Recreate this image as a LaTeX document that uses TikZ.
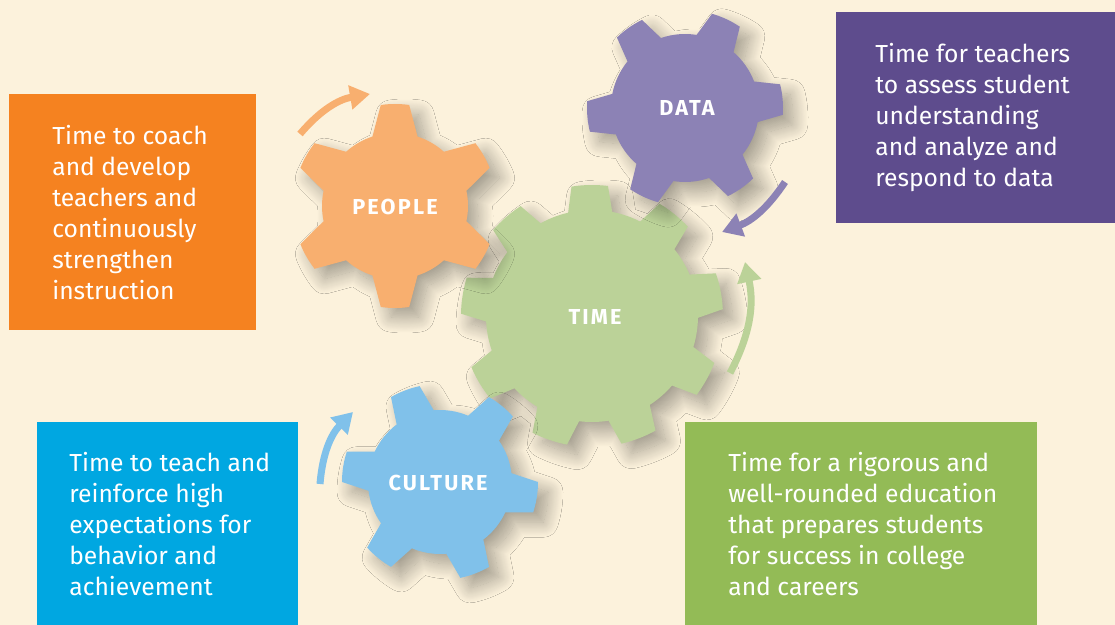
\documentclass[tikz,border=0pt]{standalone}
\usepackage{fontspec}
\setmainfont{Fira Sans}
\newfontfamily\gearfont[LetterSpace=10]{Fira Sans}
\usetikzlibrary{positioning,arrows.meta,shadows.blur}

\definecolor{bgcream}{HTML}{FCF2DC}
\definecolor{orangebox}{HTML}{F58220}
\definecolor{purplebox}{HTML}{5E4C8D}
\definecolor{bluebox}{HTML}{00A7E1}
\definecolor{greenbox}{HTML}{93BB56}
\definecolor{peoplegear}{HTML}{F8AF6F}
\definecolor{datagear}{HTML}{8C82B5}
\definecolor{timegear}{HTML}{BBD298}
\definecolor{culturegear}{HTML}{80C1EA}

\tikzset{
  box/.style={rectangle, inner sep=0pt, anchor=north west},
  boxtext/.style={inner sep=0pt, align=left, text=white,
    font=\fontsize{14.8pt}{18.6pt}\selectfont},
  gearlabel/.style={text=white, font=\gearfont\fontsize{13pt}{13pt}\selectfont\bfseries},
  gearshadow/.style={blur shadow={shadow xshift=6pt, shadow yshift=-6pt,
    shadow blur radius=9pt, shadow blur steps=24, shadow opacity=35}},
  turn/.style={line width=4.2pt, -{Triangle[length=12pt, width=14pt]}},
}

% colour, centre, first angle, second angle, last angle, inner r, outer r, base half, tip half
\newcommand{\gear}[9]{%
  \fill[gearshadow, fill=#1, shift={#2}] (#3-#8:#6)
    \foreach \a in {#3,#4,...,#5}{
      -- (\a-#8:#6) -- (\a-#9:#7)
      arc[start angle=\a-#9, end angle=\a+#9, radius=#7]
      -- (\a+#8:#6)
      arc[start angle=\a+#8, end angle=\a+#4-#3-#8, radius=#6]
    } -- cycle;
}

\begin{document}
\begin{tikzpicture}[x=0.6pt, y=0.6pt]
  \useasboundingbox (0,0) rectangle (1115,-625);
  \fill[bgcream] (0,0) rectangle (1115,-625);
  % Gears
  \gear{timegear}{(592,-316)}{11}{51}{331}{106}{131}{12}{8}
  \gear{peoplegear}{(395,-206)}{90}{150}{390}{73}{102}{18}{8}
  \gear{datagear}{(685,-108)}{5}{65}{305}{74}{98}{16}{9}
  \gear{culturegear}{(440,-482)}{-9}{51}{291}{72}{98}{16}{9}
  \node[gearlabel] (time) at (595,-317) {TIME};
  \node[gearlabel] (people) at (395,-207) {PEOPLE};
  \node[gearlabel] (data) at (687,-108) {DATA};
  \node[gearlabel] (culture) at (438,-483) {CULTURE};
  %---------------------%
  % Turning arrows
  \coordinate (peopletail) at (300,-134);
  \coordinate (peopletip) at (370,-94);
  \coordinate (datatail) at (785,-182);
  \coordinate (datatip) at (722,-232);
  \coordinate (timetail) at (730,-373);
  \coordinate (timetip) at (745,-262);
  \coordinate (culturetail) at (320,-484);
  \coordinate (culturetip) at (353,-412);
  \draw[turn, peoplegear] (peopletail) to[bend left=20] (peopletip);
  \draw[turn, datagear] (datatail) to[bend left=18] (datatip);
  \draw[turn, timegear] (timetail) to[bend right=20] (timetip);
  \draw[turn, culturegear] (culturetail) to[bend left=20] (culturetip);
  %---------------------%
  % Text boxes
  \node[box, fill=orangebox, minimum width=148.2pt, minimum height=141.6pt] (peoplebox) at (9,-94) {};
  \node[boxtext, right=25.8pt of peoplebox.west] (peopletext)
    {Time to coach\\and develop\\teachers and\\continuously\\strengthen\\instruction};
  \node[box, fill=purplebox, minimum width=167.4pt, minimum height=126.6pt] (databox) at (836,-12) {};
  \node[boxtext, right=23.4pt of databox.west] (datatext)
    {Time for teachers\\to assess student\\understanding\\and analyze and\\respond to data};
  \node[box, fill=bluebox, minimum width=156.6pt, minimum height=121.8pt] (culturebox) at (37,-422) {};
  \node[boxtext, right=19.2pt of culturebox.west] (culturetext)
    {Time to teach and\\reinforce high\\expectations for\\behavior and\\achievement};
  \node[box, fill=greenbox, minimum width=211.2pt, minimum height=121.8pt] (timebox) at (685,-422) {};
  \node[boxtext, right=25.8pt of timebox.west] (timetext)
    {Time for a rigorous and\\well-rounded education\\that prepares students\\for success in college\\and careers};
\end{tikzpicture}
\end{document}
